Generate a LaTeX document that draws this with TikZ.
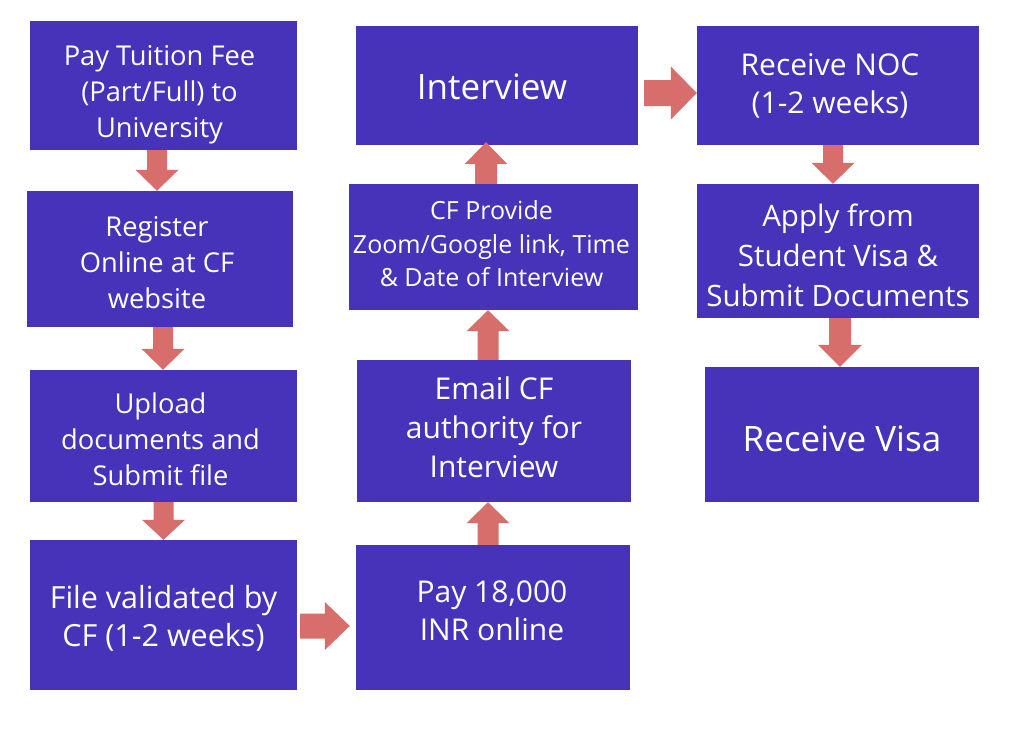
\documentclass[tikz,border=0pt]{standalone}
\usepackage{fontspec}
\setmainfont{Open Sans}
\usetikzlibrary{calc}
\definecolor{boxc}{RGB}{70,51,185}
\definecolor{arrc}{RGB}{216,110,107}
\makeatletter
\newcommand\blockarrow[5]{%
  \path (#1) coordinate (ba-s) (#2) coordinate (ba-e);
  \pgfmathanglebetweenpoints{\pgfpointanchor{ba-s}{center}}{\pgfpointanchor{ba-e}{center}}%
  \let\baang\pgfmathresult
  \pgfpointdiff{\pgfpointanchor{ba-s}{center}}{\pgfpointanchor{ba-e}{center}}%
  \pgfmathveclen{\pgf@x}{\pgf@y}%
  \let\balen\pgfmathresult
  \begin{scope}[shift={(ba-s)}, rotate=\baang, x=1pt, y=1pt]
    \fill[arrowfill] (0,-#3) -- ({\balen-#5},-#3) -- ({\balen-#5},-#4) -- (\balen,0)
      -- ({\balen-#5},#4) -- ({\balen-#5},#3) -- (0,#3) -- cycle;
  \end{scope}}
\makeatother
\tikzset{
  box/.style={fill=boxc, draw=none, inner sep=0pt, anchor=center},
  txt/.style={text=white, align=center, inner sep=0pt, anchor=center},
  arrowfill/.style={fill=arrc},
}
\begin{document}
\begin{tikzpicture}[x=1pt, y=-1pt]
\useasboundingbox[fill=white] (0,0) rectangle (1024,740);
% boxes
\node[box, minimum width=267, minimum height=129] (n1) at (163.5,85.5) {};
\node[box, minimum width=266, minimum height=136] (n2) at (160,259) {};
\node[box, minimum width=267, minimum height=132] (n3) at (163.5,436) {};
\node[box, minimum width=267, minimum height=150] (n4) at (163.5,615) {};
\node[box, minimum width=274, minimum height=145] (n5) at (493,617.5) {};
\node[box, minimum width=274, minimum height=142] (n6) at (494,431) {};
\node[box, minimum width=289, minimum height=126] (n7) at (493.5,247) {};
\node[box, minimum width=282, minimum height=119] (n8) at (497,85.5) {};
\node[box, minimum width=282, minimum height=119] (n9) at (838,85.5) {};
\node[box, minimum width=282, minimum height=134] (n10) at (838,251) {};
\node[box, minimum width=274, minimum height=135] (n11) at (842,434.5) {};
% texts
\node[txt, font=\fontsize{27.3}{36}\selectfont] (t1) at ($(n1)+(-4,9.5)$) {Pay Tuition Fee\\(Part/Full) to\\University};
\node[txt, font=\fontsize{27.3}{36}\selectfont] (t2) at ($(n2)+(-3,4)$) {Register\\Online at CF\\website};
\node[txt, font=\fontsize{27.3}{36}\selectfont] (t3) at ($(n3)+(-3,3)$) {Upload\\documents and\\Submit file};
\node[txt, font=\fontsize{30.5}{38}\selectfont] (t4) at ($(n4)+(0,3)$) {File validated by\\CF (1-2 weeks)};
\node[txt, font=\fontsize{30}{38}\selectfont] (t5) at ($(n5)+(-1,-6.5)$) {Pay 18,000\\INR online};
\node[txt, font=\fontsize{30}{39}\selectfont] (t6) at ($(n6)+(0,-4)$) {Email CF\\authority for\\Interview};
\node[txt, font=\fontsize{25}{33.5}\selectfont] (t7) at ($(n7)+(-2,-3)$) {CF Provide\\Zoom/Google link, Time\\\& Date of Interview};
\node[txt, font=\fontsize{35}{44}\selectfont] (t8) at ($(n8)+(-5,1)$) {Interview};
\node[txt, font=\fontsize{30}{38}\selectfont] (t9) at ($(n9)+(-8,0.5)$) {Receive NOC\\(1-2 weeks)};
\node[txt, font=\fontsize{29.5}{40}\selectfont] (t10) at ($(n10)+(0,4)$) {Apply from\\Student Visa \&\\Submit Documents};
\node[txt, font=\fontsize{35}{44}\selectfont] (t11) at ($(n11)+(0,4)$) {Receive Visa};
% arrows
\coordinate (s12) at ($(n1.south)+(-6.5,0)$);
\blockarrow{s12}{s12 |- n2.north}{10}{21.5}{21}
\coordinate (s23) at ($(n2.south)+(3,0)$);
\blockarrow{s23}{s23 |- n3.north}{10}{21.5}{21}
\coordinate (s34) at ($(n3.south)+(0,0)$);
\blockarrow{s34}{s34 |- n4.north}{10}{21.5}{20}
\coordinate (s45) at ($(n4.east)+(3,11)$);
\coordinate (e45) at ($(s45 -| n5.west)+(-6,0)$);
\blockarrow{s45}{e45}{12.5}{24}{25}
\coordinate (s56) at ($(n5.north)+(-5,0)$);
\blockarrow{s56}{s56 |- n6.south}{10.5}{21.5}{21}
\coordinate (s67) at ($(n6.north)+(-6,0)$);
\blockarrow{s67}{s67 |- n7.south}{10.5}{21.5}{21}
\coordinate (s78) at ($(n7.north)+(-7.5,0)$);
\coordinate (e78) at ($(s78 |- n8.south)+(0,-3)$);
\blockarrow{s78}{e78}{11}{21.5}{22}
\coordinate (s89) at ($(n8.east)+(6,7.5)$);
\blockarrow{s89}{s89 -| n9.west}{13}{26.5}{26}
\coordinate (s910) at ($(n9.south)+(-5,0)$);
\blockarrow{s910}{s910 |- n10.north}{10}{21.5}{21}
\coordinate (s1011) at ($(n10.south)+(2,0)$);
\blockarrow{s1011}{s1011 |- n11.north}{11}{22}{22}
\end{tikzpicture}
\end{document}
